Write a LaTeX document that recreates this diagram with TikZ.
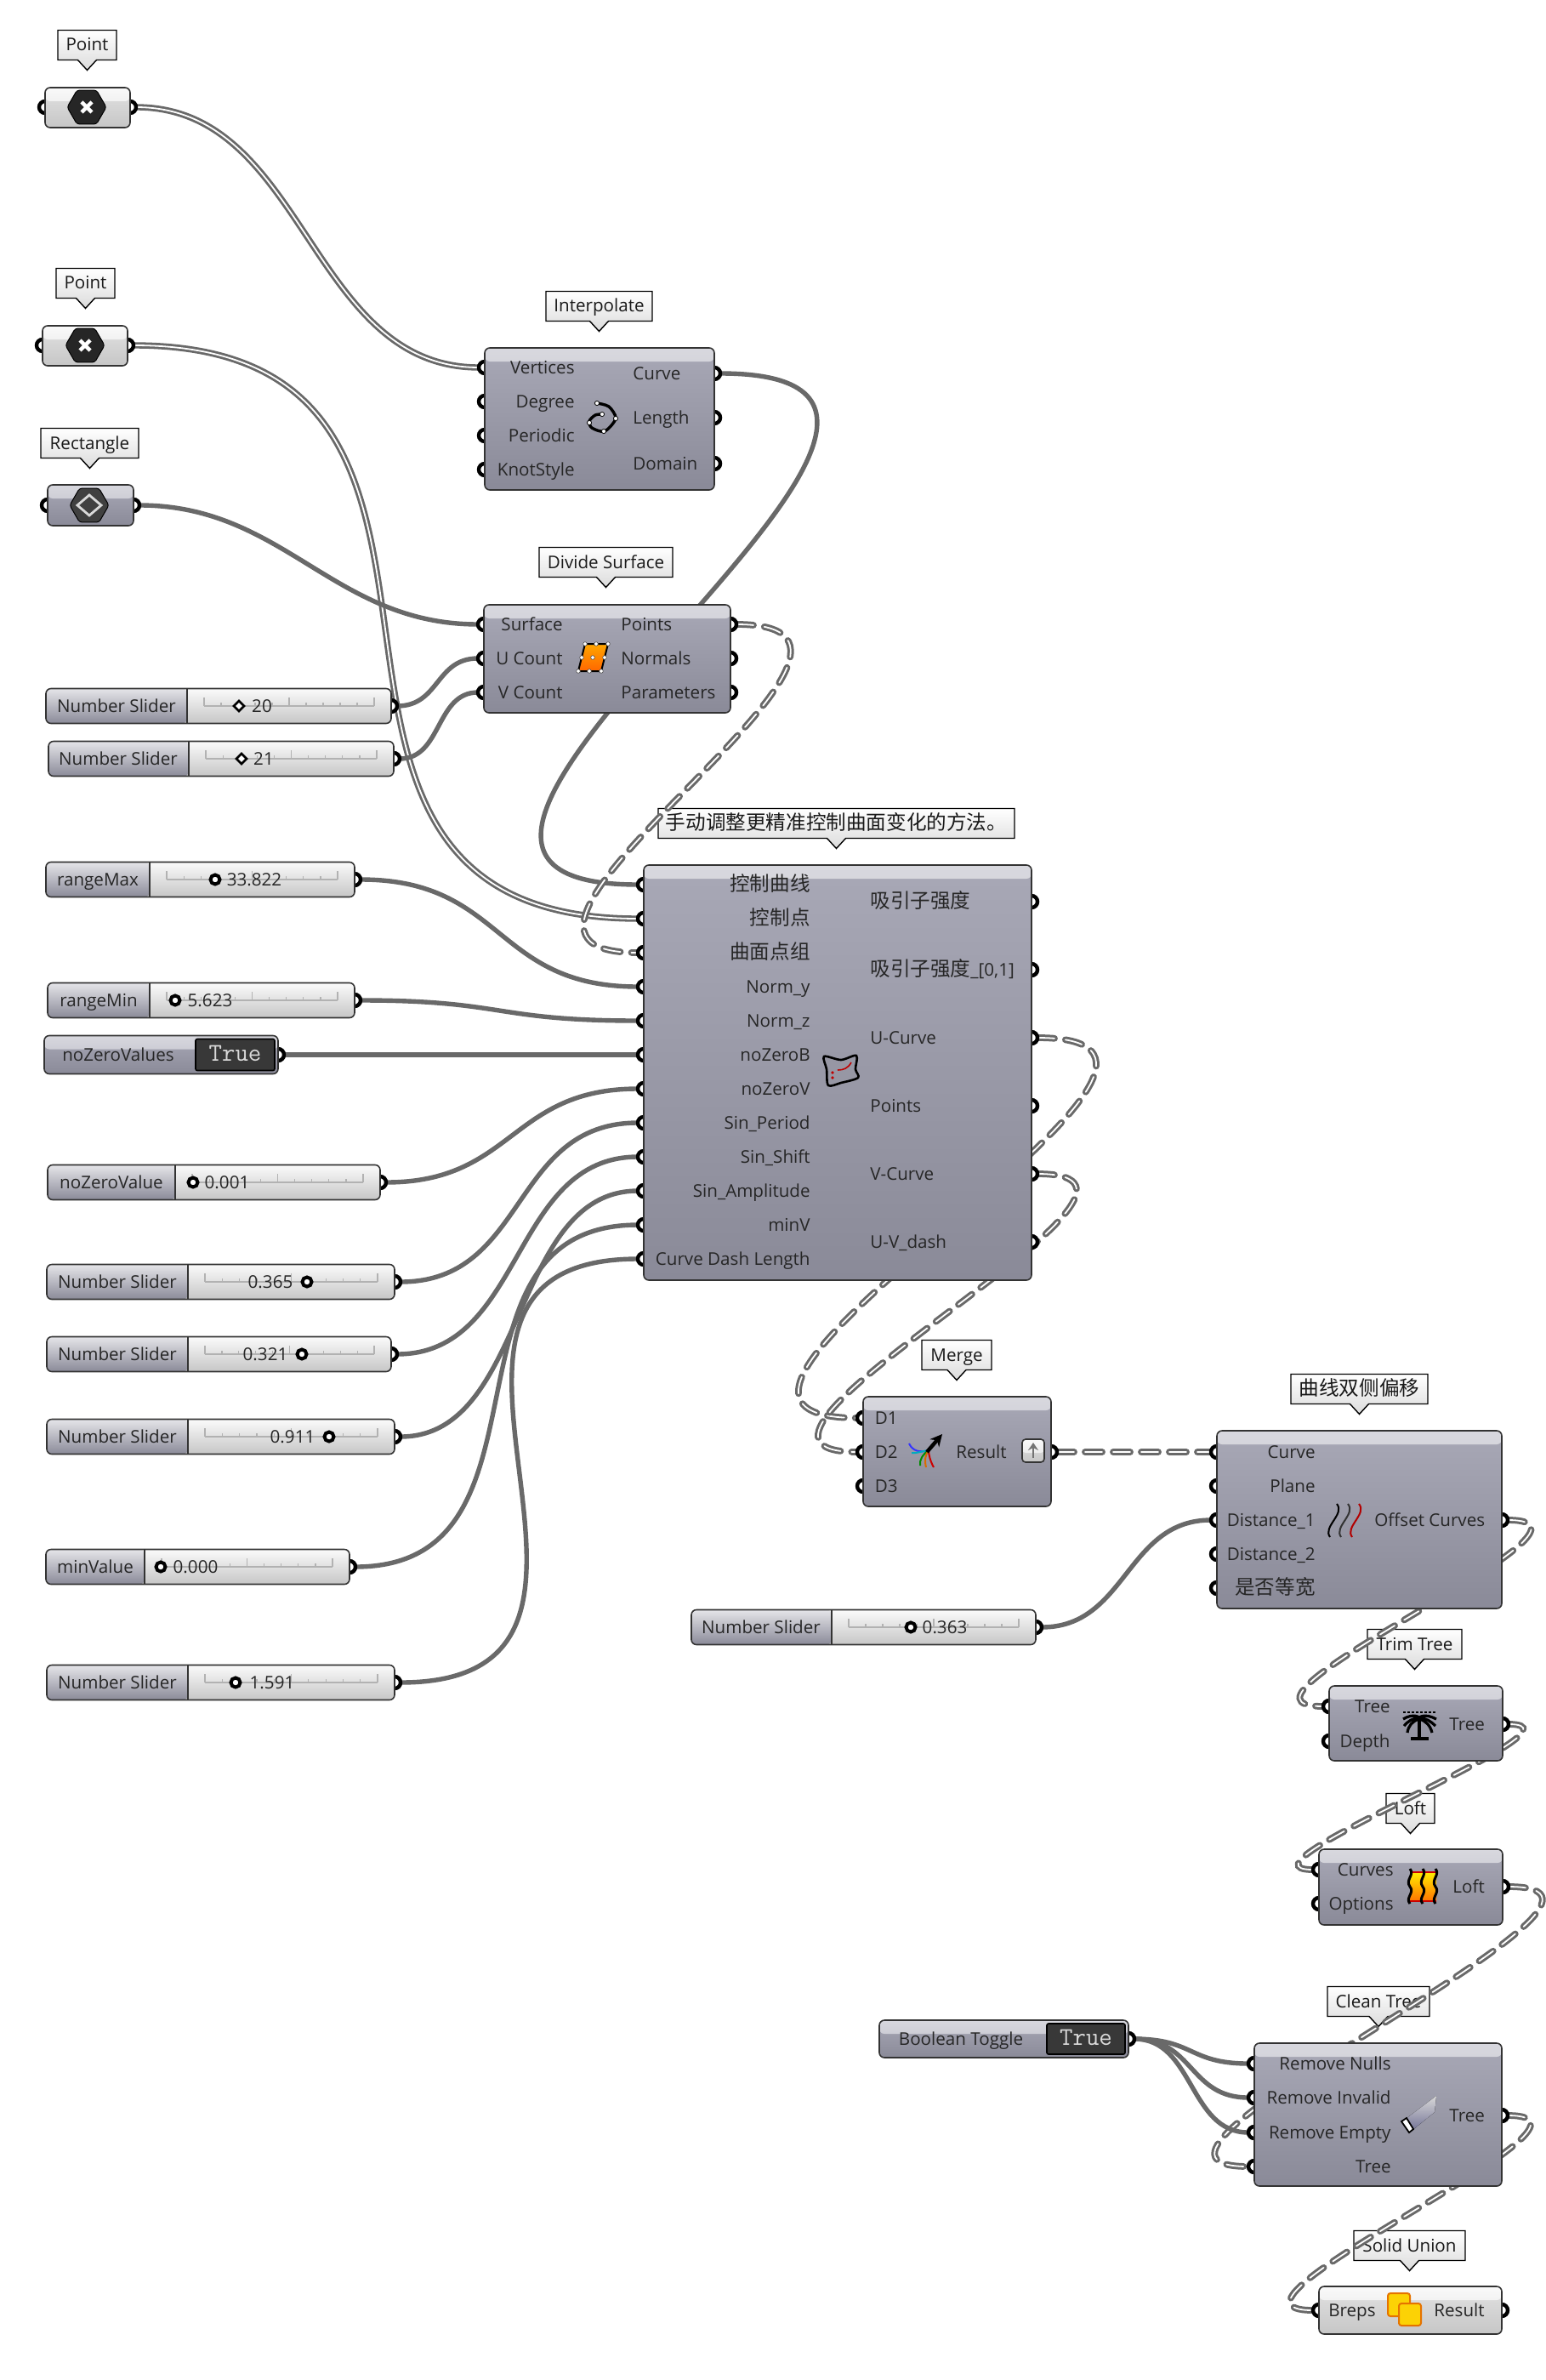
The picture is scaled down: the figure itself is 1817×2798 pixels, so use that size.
\documentclass[tikz,border=0pt]{standalone}
\usepackage{fontspec}
\setmainfont{Open Sans}
\newfontfamily\cjk{Noto Sans CJK SC}
\usetikzlibrary{shapes,arrows.meta}

\pgfdeclarelayer{taglayer}
\pgfdeclarelayer{wirelayer}
\pgfdeclarelayer{portlayer}
\pgfsetlayers{taglayer,wirelayer,portlayer,main}

\definecolor{wiregray}{RGB}{105,105,105}
\definecolor{darktop}{RGB}{168,168,182}
\definecolor{darkbot}{RGB}{138,138,152}
\definecolor{lighttop}{RGB}{226,226,226}
\definecolor{lightbot}{RGB}{198,198,198}

\tikzset{
  darkbox/.style={draw=black!80,line width=0.8pt,rounded corners=3pt,inner sep=0pt,
    top color=darktop,bottom color=darkbot,
    path picture={\shade[top color=white!55!darktop,bottom color=white!20!darktop]
      (path picture bounding box.north west) rectangle ([yshift=-8pt]path picture bounding box.north east);}},
  lightbox/.style={draw=black!80,line width=0.8pt,rounded corners=3pt,inner sep=0pt,
    top color=lighttop,bottom color=lightbot,
    path picture={\shade[top color=white!80!lighttop,bottom color=lighttop]
      (path picture bounding box.north west) rectangle ([yshift=-8pt]path picture bounding box.north east);}},
  slidebox/.style={draw=black!80,line width=0.8pt,rounded corners=3pt,inner sep=0pt,
    top color=white!85!lighttop,bottom color=lightbot},
  togglebtn/.style={draw=black,line width=0.8pt,rounded corners=1pt,inner sep=0pt,fill=black!78},
  tagbox/.style={rectangle callout,draw=black,line width=0.7pt,top color=white,bottom color=black!14,
    inner sep=0pt,callout pointer width=11pt},
  lbl/.style={font=\fontsize{10.3}{12}\selectfont,text=black!85,inner sep=0pt,text height=9pt,text depth=2pt},
  cjklbl/.style={lbl,font=\fontsize{11.8}{14}\selectfont\cjk},
  port/.style={circle,draw=black,line width=2.2pt,fill=white,minimum size=7pt,inner sep=0pt,outer sep=0pt},
  knobring/.style={circle,draw=black,line width=2pt,fill=white,minimum size=5.5pt,inner sep=0pt},
  knobdiamond/.style={diamond,draw=black,line width=1.3pt,fill=white,minimum size=6.5pt,inner sep=0pt},
  hexicon/.style={regular polygon,regular polygon sides=6,draw=black,fill=black!85,line width=0.5pt,
    minimum size=23pt,inner sep=0pt,rounded corners=1.5pt},
  item/.style={draw=wiregray,line width=2.7pt},
  listw/.style={draw=wiregray,line width=1.4pt,double=white,double distance=0.9pt},
  tree/.style={draw=wiregray,line width=1.5pt,double=white,double distance=0.9pt,line cap=round,
    dash pattern=on 10pt off 6.5pt},
}

% box from its corners, in pixels of the reference
\newcommand{\CompBox}[6][darkbox]{%
  \pgfmathsetmacro{\compw}{((#5)-(#3))*0.5}\pgfmathsetmacro{\comph}{((#6)-(#4))*0.5}%
  \node[#1,minimum width=\compw pt,minimum height=\comph pt] (#2) at ({((#3)+(#5))/2},{((#4)+(#6))/2}) {};}
\newcommand{\Tag}[5][]{%
  \pgfmathsetmacro{\tagw}{((#4)-(#3))*0.5}%
  \begin{pgfonlayer}{taglayer}
  \node[tagbox,#1,minimum width=\tagw pt,minimum height=17.5pt,callout relative pointer={(0,-6pt)}]
    (#2) at ({((#3)+(#4))/2},#5) {};
  \end{pgfonlayer}}
\newcommand{\Port}[3]{%
  \begin{pgfonlayer}{portlayer}\node[port] (#1) at (#2,#3) {};\end{pgfonlayer}}
\newcommand{\InPort}[6][lbl]{\Port{#2}{#3}{#4}\node[#1,anchor=east] (#2t) at (#5,#4) {#6};}
\newcommand{\OutPort}[6][lbl]{\Port{#2}{#3}{#4}\node[#1,anchor=west] (#2t) at (#5,#4) {#6};}
\newcommand{\Slider}[9][knobring]{%
  \pgfmathsetmacro{\splitw}{((#4)-(#3))*0.5}%
  \CompBox[slidebox,path picture={%
    \shade[top color=white!70!darktop,bottom color=darkbot] (path picture bounding box.north west)
      rectangle ([xshift=\splitw pt]path picture bounding box.south west);
    \draw[black!80,line width=0.8pt] ([xshift=\splitw pt]path picture bounding box.north west)
      -- ([xshift=\splitw pt]path picture bounding box.south west);}]{#2}{#3}{#6-20.5}{#5}{#6+20.5}%
  \draw[black!30,line width=0.6pt] ({#4+20},#6) -- ({#5-20},#6);
  \foreach \i in {0,...,10}{%
    \pgfmathsetmacro{\tickx}{#4+20+\i*(#5-#4-40)/10}\pgfmathsetmacro{\tickh}{mod(\i,5)==0?10:4}%
    \draw[black!30,line width=0.6pt] (\tickx,#6) -- (\tickx,#6-\tickh);}
  \node[lbl] (#2v) at (#8,#6) {#9};
  \node[#1] (#2k) at (#7,#6) {};
  \Port{#2o}{#5}{#6}}
\newcommand{\Toggle}[8]{%
  \CompBox[darkbox]{#1}{#2}{#4-#5/2}{#3}{#4+#5/2}%
  \CompBox[togglebtn]{#1b}{#6}{#4-#5/2+4}{#3-4}{#4+#5/2-4}%
  \node[font=\ttfamily\fontsize{15}{15}\selectfont,text=black!15,inner sep=0pt] (#1v) at ({((#6)+(#3)-4)/2},#4-2) {True};
  \node[lbl] (#1t) at (#7,#4) {#8};
  \Port{#1o}{#3}{#4}}
\newcommand{\PointIcon}[3]{%
  \node[hexicon] (#1) at (#2,#3) {};
  \draw[white,line width=2.2pt] (#2-6,#3-6) -- (#2+6,#3+6) (#2-6,#3+6) -- (#2+6,#3-6);}
\newcommand{\TagText}[2]{\node[inner sep=0pt,font=\fontsize{10.3}{12}\selectfont,text=black!90,text height=9pt,text depth=2pt] (#1t) at (#1) {#2};}

\begin{document}
\begin{tikzpicture}[x=0.5pt,y=-0.5pt]
\useasboundingbox (0,0) rectangle (1817,2798);

% params
\Tag{tagPtA}{68}{137}{53}
\CompBox[lightbox]{ptA}{53}{103}{153}{150}
\Port{ptAi}{53}{126}
\Port{ptAo}{153}{126}
\PointIcon{ptAh}{102}{126}

\Tag{tagPtB}{66}{135}{333}
\CompBox[lightbox]{ptB}{50}{383}{150}{430}
\Port{ptBi}{50}{406}
\Port{ptBo}{150}{406}
\PointIcon{ptBh}{100}{406}

\Tag{tagRect}{48}{163}{521}
\CompBox[darkbox]{rect}{56}{570}{157}{618}
\Port{recti}{56}{594}
\Port{recto}{157}{594}
\node[hexicon,fill=black!75] (recth) at (105,594) {};
\draw[white!85!black,line width=1.4pt] (91,594) -- (105,582) -- (119,594) -- (105,606) -- cycle;

% interpolate
\Tag{tagIntp}{642}{767}{360}
\CompBox{intp}{570}{409}{840}{576}
\InPort{pVert}{570}{432}{676}{Vertices}
\InPort{pDeg}{570}{472}{676}{Degree}
\InPort{pPer}{570}{512}{676}{Periodic}
\InPort{pKnot}{570}{552}{676}{KnotStyle}
\OutPort{pCrv}{840}{439}{744}{Curve}
\OutPort{pLen}{840}{491}{744}{Length}
\OutPort{pDom}{840}{545}{744}{Domain}
\draw[black,line width=1.7pt] plot[smooth] coordinates {(702,474) (716,478) (724,492) (711,507) (696,503) (693,495) (700,488) (708,487)};
\foreach \p in {(702,474),(724,492),(710,507),(693,497),(708,487)}
  \fill[white,draw=black,line width=0.4pt] \p circle (2.6);

% divide surface
\Tag{tagDiv}{634}{791}{661}
\CompBox{divs}{569}{711}{859}{838}
\InPort{pSrf}{569}{734}{662}{Surface}
\InPort{pUCnt}{569}{774}{662}{U Count}
\InPort{pVCnt}{569}{814}{662}{V Count}
\OutPort{pDivP}{859}{734}{730}{Points}
\OutPort{pDivN}{859}{774}{730}{Normals}
\OutPort{pDivT}{859}{814}{730}{Parameters}
\draw[black,line width=1pt,top color=orange!70!yellow,bottom color=orange!80!red] (688,757) -- (715,757) -- (707,789) -- (680,789) -- cycle;
\foreach \p in {(688,757),(701,757),(715,757),(680,789),(693,789),(707,789),(684,773),(711,773),(697,773)}
  \fill[white,draw=black!70,line width=0.3pt] \p circle (2.3);

% sliders, left column
\Slider[knobdiamond]{slU}{54}{220}{460}{830}{281}{308}{20}
\node[lbl] (slUt) at (137,830) {Number Slider};
\Slider[knobdiamond]{slV}{57}{222}{463}{892}{284}{310}{21}
\node[lbl] (slVt) at (139,892) {Number Slider};
\Slider{slMax}{54}{176}{417}{1034}{253}{299}{33.822}
\node[lbl] (slMaxt) at (115,1034) {rangeMax};
\Slider{slMin}{56}{176}{417}{1176}{206}{247}{5.623}
\node[lbl] (slMint) at (116,1176) {rangeMin};
\Toggle{tgZero}{52}{327}{1240}{45}{230}{139}{noZeroValues}
\Slider{slZero}{56}{206}{447}{1390}{227}{267}{0.001}
\node[lbl] (slZerot) at (131,1390) {noZeroValue};
\Slider{slPer}{55}{221}{464}{1507}{361}{318}{0.365}
\node[lbl] (slPert) at (138,1507) {Number Slider};
\Slider{slShf}{55}{221}{460}{1592}{355}{312}{0.321}
\node[lbl] (slShft) at (138,1592) {Number Slider};
\Slider{slAmp}{55}{221}{464}{1689}{387}{344}{0.911}
\node[lbl] (slAmpt) at (138,1689) {Number Slider};
\Slider{slMinV}{54}{170}{411}{1842}{189}{230}{0.000}
\node[lbl] (slMinVt) at (112,1842) {minValue};
\Slider{slDash}{55}{221}{464}{1978}{277}{320}{1.591}
\node[lbl] (slDasht) at (138,1978) {Number Slider};

% the big cluster
\Tag{tagBig}{774}{1193}{968}
\CompBox{big}{757}{1017}{1213}{1505}
\InPort[cjklbl]{pCtrlC}{757}{1040}{953}{控制曲线}
\InPort[cjklbl]{pCtrlP}{757}{1080}{953}{控制点}
\InPort[cjklbl]{pSrfP}{757}{1120}{953}{曲面点组}
\InPort{pNormY}{757}{1160}{953}{Norm\_y}
\InPort{pNormZ}{757}{1200}{953}{Norm\_z}
\InPort{pZeroB}{757}{1240}{953}{noZeroB}
\InPort{pZeroV}{757}{1280}{953}{noZeroV}
\InPort{pSinP}{757}{1320}{953}{Sin\_Period}
\InPort{pSinS}{757}{1360}{953}{Sin\_Shift}
\InPort{pSinA}{757}{1400}{953}{Sin\_Amplitude}
\InPort{pMinV}{757}{1440}{953}{minV}
\InPort{pDash}{757}{1480}{953}{Curve Dash Length}
\OutPort[cjklbl]{pAttr}{1213}{1060}{1023}{吸引子强度}
\OutPort{pAttrN}{1213}{1140}{1023}{{\cjk\fontsize{11.8}{14}\selectfont 吸引子强度}\_[0,1]}
\OutPort{pUCrv}{1213}{1220}{1023}{U-Curve}
\OutPort{pBigP}{1213}{1300}{1023}{Points}
\OutPort{pVCrv}{1213}{1380}{1023}{V-Curve}
\OutPort{pUVd}{1213}{1460}{1023}{U-V\_dash}
\draw[black,line width=1.3pt,fill=darktop!90!black] plot[smooth cycle] coordinates {(969,1242) (989,1246) (1007,1241) (1006,1257) (1009,1267) (989,1273) (974,1276) (972,1257)};
\draw[red!75!black,line width=0.8pt] (985,1258) .. controls (992,1258) and (997,1256) .. (1001,1249);
\fill[red!75!black] (979,1261) circle (1.8) (979,1267) circle (1.8);

% merge
\Tag{tagMrg}{1084}{1166}{1593}
\CompBox{mrg}{1015}{1642}{1236}{1771}
\InPort{pD1}{1015}{1667}{1056}{D1}
\InPort{pD2}{1015}{1707}{1056}{D2}
\InPort{pD3}{1015}{1747}{1056}{D3}
\OutPort{pRes}{1236}{1707}{1124}{Result}
\CompBox[lightbox,rounded corners=2pt]{mrgb}{1202}{1692}{1228}{1719}
\draw[black!55,line width=1.2pt,-{Stealth[length=4.5pt,width=6pt]}] (1215,1714) -- (1215,1696);
\draw[blue!80,line width=1pt] (1092,1705) .. controls (1082,1708) and (1073,1706) .. (1069,1697);
\draw[cyan!70!green,line width=1pt] (1092,1705) .. controls (1084,1706) and (1077,1709) .. (1072,1708);
\draw[green!55!black,line width=1pt] (1092,1705) .. controls (1085,1710) and (1081,1716) .. (1082,1723);
\draw[orange!85!black,line width=1pt] (1092,1705) .. controls (1088,1710) and (1087,1717) .. (1089,1725);
\draw[red!80!black,line width=1pt] (1092,1705) .. controls (1092,1710) and (1094,1718) .. (1098,1725);
\draw[black,line width=2.2pt,-{Stealth[length=7pt,width=7pt]}] (1090,1707) -- (1108,1686);

% offset curves
\Tag{tagOff}{1518}{1679}{1633}
\CompBox{off}{1431}{1682}{1766}{1891}
\InPort{pOffC}{1431}{1707}{1547}{Curve}
\InPort{pOffP}{1431}{1747}{1547}{Plane}
\InPort{pOffA}{1431}{1787}{1547}{Distance\_1}
\InPort{pOffB}{1431}{1827}{1547}{Distance\_2}
\InPort[cjklbl]{pOffE}{1431}{1867}{1547}{是否等宽}
\OutPort{pOffO}{1766}{1787}{1616}{Offset Curves}
\foreach \dx/\c in {0/black,13/black!80,26/red!70!black}
  \draw[\c,line width=1pt] (1572+\dx,1768) .. controls (1582+\dx,1780) and (1555+\dx,1795) .. (1564+\dx,1807);
\Slider{slOff}{813}{978}{1218}{1913}{1071}{1111}{0.363}
\node[lbl] (slOfft) at (895,1913) {Number Slider};

% trim tree
\Tag{tagTrim}{1608}{1719}{1933}
\CompBox{trim}{1563}{1982}{1767}{2070}
\InPort{pTrimT}{1563}{2006}{1635}{Tree}
\InPort{pTrimD}{1563}{2047}{1635}{Depth}
\OutPort{pTrimO}{1767}{2027}{1704}{Tree}
\draw[black,line width=0.9pt,dash pattern=on 1.5pt off 1pt] (1650,2013) -- (1689,2013);
\draw[black,line width=1.8pt] (1669,2020) -- (1669,2043) (1659,2044) -- (1680,2044);
\draw[black,line width=1.6pt] (1669,2019) .. controls (1662,2015) and (1655,2018) .. (1650,2021)
  (1669,2020) .. controls (1662,2019) and (1655,2024) .. (1651,2029)
  (1669,2021) .. controls (1661,2023) and (1656,2029) .. (1655,2037)
  (1669,2019) .. controls (1676,2015) and (1683,2018) .. (1689,2021)
  (1669,2020) .. controls (1676,2019) and (1683,2024) .. (1688,2029)
  (1669,2021) .. controls (1677,2023) and (1682,2029) .. (1684,2037);

% loft
\Tag{tagLoft}{1630}{1687}{2126}
\CompBox{loft}{1551}{2174}{1767}{2263}
\InPort{pLoftC}{1551}{2198}{1639}{Curves}
\InPort{pLoftP}{1551}{2238}{1639}{Options}
\OutPort{pLoftO}{1767}{2218}{1708}{Loft}
\fill[top color=yellow!85!orange,bottom color=orange!90!red] (1658,2201) rectangle (1689,2235);
\draw[red!80!black,line width=0.6pt] (1658,2201) -- (1689,2201) (1658,2235) -- (1689,2235);
\foreach \wx in {1658,1673,1688}
  \draw[black,line width=1.5pt] (\wx,2197) .. controls (\wx+6,2204) and (\wx-6,2210) .. (\wx,2218) .. controls (\wx+6,2225) and (\wx-6,2231) .. (\wx,2238);

% clean tree
\Toggle{tgBool}{1034}{1327}{2397}{44}{1231}{1130}{Boolean Toggle}
\Tag{tagCln}{1561}{1681}{2353}
\CompBox{cln}{1475}{2402}{1766}{2570}
\InPort{pClnN}{1475}{2426}{1636}{Remove Nulls}
\InPort{pClnI}{1475}{2466}{1636}{Remove Invalid}
\InPort{pClnE}{1475}{2507}{1636}{Remove Empty}
\InPort{pClnT}{1475}{2547}{1636}{Tree}
\OutPort{pClnO}{1766}{2487}{1704}{Tree}
\fill[top color=black!15,bottom color=blue!25!black!55] (1689,2464) -- (1687,2483) -- (1660,2505) -- (1649,2494) -- cycle;
\draw[black,line width=0.9pt,fill=white] (1648,2494) -- (1654,2490) -- (1662,2503) -- (1657,2507) -- cycle;

% solid union
\Tag{tagUni}{1592}{1723}{2640}
\CompBox[lightbox]{uni}{1551}{2688}{1766}{2744}
\InPort{pUniB}{1551}{2716}{1618}{Breps}
\OutPort{pUniR}{1766}{2716}{1686}{Result}
\draw[orange!90!black,line width=1pt,fill=yellow!70!orange,rounded corners=1.5pt] (1632,2696) rectangle (1658,2723);
\draw[orange!90!black,line width=1pt,fill=yellow!70!orange,rounded corners=1.5pt] (1645,2708) rectangle (1671,2734);

% tag texts
\begin{pgfonlayer}{taglayer}
\TagText{tagPtA}{Point}
\TagText{tagPtB}{Point}
\TagText{tagRect}{Rectangle}
\TagText{tagIntp}{Interpolate}
\TagText{tagDiv}{Divide Surface}
\TagText{tagBig}{\cjk\fontsize{11.8}{14}\selectfont 手动调整更精准控制曲面变化的方法。}
\TagText{tagMrg}{Merge}
\TagText{tagOff}{\cjk\fontsize{11.8}{14}\selectfont 曲线双侧偏移}
\TagText{tagTrim}{Trim Tree}
\TagText{tagLoft}{Loft}
\TagText{tagCln}{Clean Tree}
\TagText{tagUni}{Solid Union}
\end{pgfonlayer}

% wires
\begin{pgfonlayer}{wirelayer}
\draw[listw] (ptAo.east) .. controls +(200,0) and +(-200,0) .. (pVert.west);
\draw[listw] (ptBo.east) .. controls +(500,0) and +(-500,0) .. (pCtrlP.west);
\draw[item] (recto.east) .. controls +(170,0) and +(-170,0) .. (pSrf.west);
\draw[item] (slUo.east) .. controls +(50,0) and +(-50,0) .. (pUCnt.west);
\draw[item] (slVo.east) .. controls +(50,0) and +(-50,0) .. (pVCnt.west);
\draw[item] (pCrv.east) .. controls +(430,0) and +(-430,0) .. (pCtrlC.west);
\draw[tree] (pDivP.east) .. controls +(260,0) and +(-260,0) .. (pSrfP.west);
\draw[item] (slMaxo.east) .. controls +(170,0) and +(-170,0) .. (pNormY.west);
\draw[item] (slMino.east) .. controls +(170,0) and +(-170,0) .. (pNormZ.west);
\draw[item] (tgZeroo.east) -- (pZeroB.west);
\draw[item] (slZeroo.east) .. controls +(150,0) and +(-150,0) .. (pZeroV.west);
\draw[item] (slPero.east) .. controls +(150,0) and +(-150,0) .. (pSinP.west);
\draw[item] (slShfo.east) .. controls +(150,0) and +(-150,0) .. (pSinS.west);
\draw[item] (slAmpo.east) .. controls +(150,0) and +(-150,0) .. (pSinA.west);
\draw[item] (slMinVo.east) .. controls +(250,0) and +(-250,0) .. (pMinV.west);
\draw[item] (slDasho.east) .. controls +(340,0) and +(-340,0) .. (pDash.west);
\draw[tree] (pUCrv.east) .. controls +(305,0) and +(-305,0) .. (pD1.west);
\draw[tree] (pVCrv.east) .. controls +(220,0) and +(-220,0) .. (pD2.west);
\draw[tree] (pRes.east) -- (pOffC.west);
\draw[item] (slOffo.east) .. controls +(100,0) and +(-100,0) .. (pOffA.west);
\draw[tree] (pOffO.east) .. controls +(150,0) and +(-150,0) .. (pTrimT.west);
\draw[tree] (pTrimO.east) .. controls +(110,0) and +(-110,0) .. (pLoftC.west);
\draw[tree] (pLoftO.east) .. controls +(215,0) and +(-215,0) .. (pClnT.west);
\draw[item] (tgBoolo.east) .. controls +(70,0) and +(-70,0) .. (pClnN.west);
\draw[item] (tgBoolo.east) .. controls +(70,0) and +(-70,0) .. (pClnI.west);
\draw[item] (tgBoolo.east) .. controls +(70,0) and +(-70,0) .. (pClnE.west);
\draw[tree] (pClnO.east) .. controls +(150,0) and +(-150,0) .. (pUniB.west);
\end{pgfonlayer}
\end{tikzpicture}
\end{document}
